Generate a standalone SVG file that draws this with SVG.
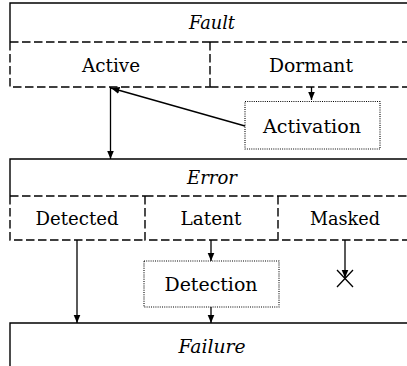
<svg xmlns="http://www.w3.org/2000/svg" width="407" height="366" viewBox="0 0 407 366">
  <style>
    text { font-family: "DejaVu Serif", "Liberation Serif", serif; font-size: 19px; fill: #000; text-anchor: middle; }
    .it { font-style: italic; }
    .solid { fill: none; stroke: #000; stroke-width: 1.4; }
    .dash { fill: none; stroke: #000; stroke-width: 1.4; stroke-dasharray: 8.5 3.5; }
    .dot { fill: none; stroke: #000; stroke-width: 1.1; stroke-dasharray: 1 1.2; }
    .conn { fill: none; stroke: #000; stroke-width: 1.3; }
    .arr { marker-end: url(#head); }
  </style>
  <defs>
    <marker id="head" markerUnits="userSpaceOnUse" markerWidth="10" markerHeight="8" refX="8.5" refY="4" orient="auto">
      <path d="M0,0.5 L8.5,4 L0,7.5 z" fill="#000"/>
    </marker>
  </defs>
  <rect width="407" height="366" fill="#fff"/>

  <!-- Fault state with its two sub-states -->
  <g id="fault">
    <path class="solid" d="M10,42 V3 H420"/>
    <text class="it" x="212" y="29" textLength="46" lengthAdjust="spacingAndGlyphs">Fault</text>
    <g id="fault-active">
      <path class="dash" d="M10,42 H210 M10,42 V87 H210"/>
      <text x="111" y="72" textLength="58" lengthAdjust="spacingAndGlyphs">Active</text>
    </g>
    <g id="fault-dormant">
      <path class="dash" d="M210,42 H420 M210,42 V87 M210,87 H420"/>
      <text x="311" y="72" textLength="84" lengthAdjust="spacingAndGlyphs">Dormant</text>
    </g>
  </g>

  <!-- Activation trigger -->
  <g id="activation">
    <rect class="dot" x="245" y="101.5" width="135" height="47.5"/>
    <text x="312" y="133" textLength="98" lengthAdjust="spacingAndGlyphs">Activation</text>
  </g>

  <!-- Error state with its three sub-states -->
  <g id="error">
    <path class="solid" d="M10,196 V159 H420"/>
    <text class="it" x="212" y="184" textLength="50" lengthAdjust="spacingAndGlyphs">Error</text>
    <g id="error-detected">
      <path class="dash" d="M10,196 H145 M10,196 V240 H145"/>
      <text x="77" y="225" textLength="83" lengthAdjust="spacingAndGlyphs">Detected</text>
    </g>
    <g id="error-latent">
      <path class="dash" d="M145,196 H278 M145,196 V240 H278"/>
      <text x="211" y="225" textLength="61" lengthAdjust="spacingAndGlyphs">Latent</text>
    </g>
    <g id="error-masked">
      <path class="dash" d="M278,196 H420 M278,196 V240 H420"/>
      <text x="345" y="225" textLength="70" lengthAdjust="spacingAndGlyphs">Masked</text>
    </g>
  </g>

  <!-- Detection trigger -->
  <g id="detection">
    <rect class="dot" x="144" y="261" width="135" height="46"/>
    <text x="211" y="291" textLength="93" lengthAdjust="spacingAndGlyphs">Detection</text>
  </g>

  <!-- Failure state -->
  <g id="failure">
    <path class="solid" d="M10,370 V323 H420"/>
    <text class="it" x="212" y="353" textLength="67" lengthAdjust="spacingAndGlyphs">Failure</text>
  </g>

  <!-- Transitions -->
  <g id="connectors">
    <line class="conn arr" x1="311.5" y1="87" x2="311.5" y2="100"/>
    <line class="conn arr" x1="245" y1="126" x2="111" y2="88"/>
    <line class="conn arr" x1="110.5" y1="87" x2="110.5" y2="159"/>
    <line class="conn arr" x1="77" y1="240" x2="77" y2="323"/>
    <line class="conn arr" x1="211" y1="240" x2="211" y2="261"/>
    <line class="conn arr" x1="211" y1="307" x2="211" y2="323"/>
    <line class="conn arr" x1="345" y1="240" x2="345" y2="278"/>
    <path class="conn" d="M337,270 L353,287 M353,270 L337,287"/>
  </g>
</svg>
